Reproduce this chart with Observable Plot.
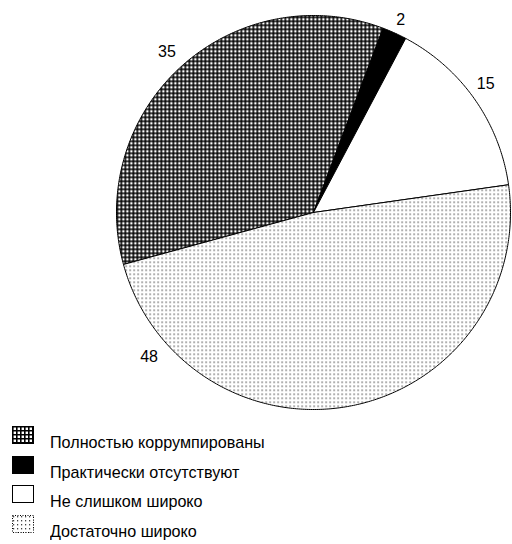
<!DOCTYPE html>
<html><head><meta charset="utf-8">
<script src="https://cdn.jsdelivr.net/npm/d3@7"></script>
<script src="https://cdn.jsdelivr.net/npm/@observablehq/plot@0.6"></script>
<style>
body{margin:0;background:#fff;}
#chart{position:relative;width:512px;height:544px;overflow:hidden;font-family:"Liberation Sans Narrow","Liberation Sans",Arial,sans-serif;}
.row{position:absolute;left:0;height:30px;}
.row svg{position:absolute;left:12px;}
.row span{position:absolute;left:50px;font-size:17px;color:#000;white-space:nowrap;line-height:1;transform:scaleX(0.95);transform-origin:0 0;}
</style></head><body><div id="chart"></div>
<script>
// ---- data ----
const categories = ["Полностью коррумпированы", "Практически отсутствуют", "Не слишком широко", "Достаточно широко"];
const values = [35, 2, 15, 48];
const valueLabels = ["35", "2", "15", "48"];
const fills = ["url(#hatch)", "black", "white", "url(#dots)"];

// ---- layout ----
const W = 512, H = 420, cx = 313, cy = 212, R = 197;
const startDeg = -105.3;
const labelR = [1.105, 1.075, 1.09, 1.11];
const labelFrac = [0.5, 0.5, 0.47, 0.85];

const pie = d3.pie().sort(null)
  .startAngle(startDeg * Math.PI / 180)
  .endAngle(startDeg * Math.PI / 180 + 2 * Math.PI)(values);

const slices = pie.map((p, i) => {
  const pts = [{x: 0, y: 0}];
  const n = Math.max(4, Math.ceil((p.endAngle - p.startAngle) / 0.01));
  for (let k = 0; k <= n; k++) {
    const a = p.startAngle + (p.endAngle - p.startAngle) * k / n;
    pts.push({x: Math.sin(a), y: Math.cos(a)});
  }
  pts.push({x: 0, y: 0});
  return {i, pts};
});

const labelData = pie.map((p, i) => {
  const a = p.startAngle + (p.endAngle - p.startAngle) * labelFrac[i];
  return {x: labelR[i] * Math.sin(a), y: labelR[i] * Math.cos(a), text: valueLabels[i]};
});

const svg = Plot.plot({
  width: W, height: H,
  margin: 0,
  style: {background: "white", fontFamily: "'Liberation Sans Narrow','Liberation Sans',Arial,sans-serif"},
  x: {domain: [-cx / R, (W - cx) / R], axis: null},
  y: {domain: [-(H - cy) / R, cy / R], axis: null},
  marks: [
    ...slices.map(s => Plot.line(s.pts, {x: "x", y: "y", fill: fills[s.i], stroke: "black", strokeWidth: 1, strokeLinejoin: "round", curve: "linear"})),
    Plot.text(labelData, {x: "x", y: "y", text: "text", fontSize: 16, fill: "black", textAnchor: "middle"})
  ]
});

const defs = d3.select(svg).insert("defs", ":first-child");
const hatch = defs.append("pattern").attr("id", "hatch").attr("patternUnits", "userSpaceOnUse")
  .attr("width", 4).attr("height", 4);
hatch.append("rect").attr("width", 4).attr("height", 4).attr("fill", "white");
hatch.append("path").attr("d", "M0 0.8H4M0.8 0V4").attr("stroke", "black").attr("stroke-width", 1.6);
const dots = defs.append("pattern").attr("id", "dots").attr("patternUnits", "userSpaceOnUse")
  .attr("width", 4).attr("height", 4);
dots.append("rect").attr("width", 4).attr("height", 4).attr("fill", "white");
dots.append("rect").attr("x", 1).attr("y", 1).attr("width", 1.2).attr("height", 1.4).attr("fill", "#444");

const chart = document.getElementById("chart");
chart.appendChild(svg);

// legend
categories.forEach((c, i) => {
  const row = document.createElement("div");
  row.className = "row";
  const base = 449 + 29.5 * i;
  row.style.top = (base - 23) + "px";
  const dash = i === 3 ? ' stroke-dasharray="1 1.5"' : '';
  row.innerHTML = `<svg width="23" height="19" style="top:0px"><rect x="0.5" y="0.5" width="21" height="17" fill="${fills[i]}" stroke="black"${dash}/></svg><span style="top:8px">${c}</span>`;
  chart.appendChild(row);
});
</script>
</body></html>
